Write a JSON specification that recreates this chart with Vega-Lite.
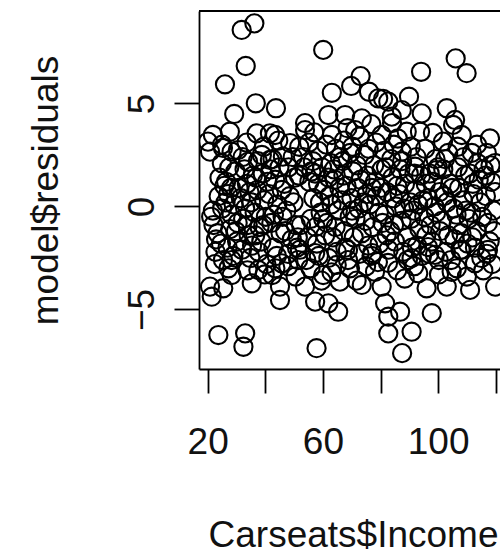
{
  "$schema": "https://vega.github.io/schema/vega-lite/v6.json",
  "width": 301,
  "height": 358,
  "autosize": {"type": "none"},
  "padding": {"left": 199, "top": 11, "right": 0, "bottom": 187},
  "background": "white",
  "config": {"view": {"stroke": null}},
  "data": {"values": [
    {"x":31.8,"y":8.57},{"x":36.2,"y":8.89},{"x":33.2,"y":6.82},{"x":26.0,"y":5.93},{"x":36.7,"y":5.01},{"x":43.7,"y":4.77},{"x":29.2,"y":4.49},
    {"x":60.1,"y":7.6},{"x":73.1,"y":6.33},{"x":69.8,"y":5.85},{"x":63.1,"y":5.52},{"x":76.0,"y":5.57},{"x":79.2,"y":5.25},{"x":82.7,"y":5.09},{"x":80.9,"y":5.22},{"x":61.9,"y":4.44},{"x":67.7,"y":4.44},{"x":73.5,"y":4.28},{"x":83.9,"y":4.36},{"x":53.8,"y":4.05},
    {"x":94.1,"y":6.54},{"x":106.1,"y":7.19},{"x":109.9,"y":6.47},{"x":89.9,"y":5.33},{"x":94.3,"y":4.52},{"x":103.0,"y":4.77},{"x":87.4,"y":4.68},{"x":105.9,"y":4.2},
    {"x":20.8,"y":-3.89},{"x":21.4,"y":-4.38},{"x":25.4,"y":-3.97},{"x":28.3,"y":-3.33},{"x":23.7,"y":-6.24},{"x":33.0,"y":-6.16},{"x":32.4,"y":-6.81},{"x":35.3,"y":-3.73},{"x":45.1,"y":-3.89},{"x":45.1,"y":-4.54},{"x":42.4,"y":-3.33},{"x":45.7,"y":-2.76},{"x":28.3,"y":-2.6},{"x":37.6,"y":-3.08},
    {"x":53.8,"y":-3.89},{"x":57.3,"y":-4.62},{"x":57.8,"y":-6.88},{"x":60.1,"y":-3.33},{"x":64.8,"y":-2.84},{"x":65.9,"y":-3.65},{"x":65.3,"y":-5.11},{"x":61.9,"y":-4.7},{"x":81.6,"y":-4.7},{"x":82.7,"y":-5.35},{"x":82.7,"y":-6.16},{"x":73.5,"y":-3.81},{"x":80.4,"y":-3.89},{"x":78.1,"y":-3.17},{"x":82.6,"y":-2.74},{"x":51.4,"y":-2.6},{"x":57.3,"y":-2.26},{"x":68.7,"y":-2.11},{"x":77.1,"y":-2.26},
    {"x":90.8,"y":-2.51},{"x":93.1,"y":-3.24},{"x":96.0,"y":-3.97},{"x":103.0,"y":-3.89},{"x":104.7,"y":-3.17},{"x":111.1,"y":-4.05},{"x":119.8,"y":-3.89},{"x":97.8,"y":-5.18},{"x":86.8,"y":-5.11},{"x":90.8,"y":-6.08},{"x":87.5,"y":-7.12},{"x":112.8,"y":-2.76},{"x":98.9,"y":-2.35},{"x":108.2,"y":-2.11},{"x":117.3,"y":-2.11},{"x":96.5,"y":-1.97},
    {"x":21.8,"y":3.47},{"x":27.7,"y":3.63},{"x":37.0,"y":3.55},{"x":41.6,"y":3.55},{"x":43.4,"y":3.47},{"x":48.6,"y":3.08},{"x":20.8,"y":2.66},{"x":28.3,"y":2.66},{"x":30.5,"y":2.74},{"x":34.0,"y":2.17},{"x":38.8,"y":2.5},{"x":41.6,"y":2.26},{"x":46.1,"y":2.42},{"x":25.3,"y":2.84},{"x":20.1,"y":3.15},
    {"x":53.8,"y":3.71},{"x":63.1,"y":3.47},{"x":71.2,"y":3.71},{"x":80.4,"y":3.47},{"x":84.0,"y":4.05},
    {"x":89.1,"y":3.63},{"x":93.7,"y":3.63},{"x":98.2,"y":3.57},{"x":101.7,"y":3.15},{"x":105.2,"y":3.96},{"x":108.2,"y":3.47},{"x":87.4,"y":2.66},{"x":92.0,"y":1.93},{"x":99.5,"y":1.77},{"x":111.7,"y":2.6},{"x":116.9,"y":2.6},{"x":119.8,"y":2.11},
    {"x":21.2,"y":-0.5},{"x":22.0,"y":-0.9},{"x":23.4,"y":-1.3},{"x":21.8,"y":-0.2},{"x":24.1,"y":1.4},{"x":23.8,"y":0.5},{"x":25.0,"y":-0.1},{"x":24.6,"y":-1.8},{"x":22.7,"y":-2.2},{"x":25.3,"y":-2.6},{"x":24.9,"y":2.1},{"x":25.8,"y":1.0},{"x":22.9,"y":-1.6},
    {"x":26.4,"y":1.2},{"x":27.1,"y":0.6},{"x":28.3,"y":-0.4},{"x":29.0,"y":0.1},{"x":27.8,"y":-1.1},{"x":30.2,"y":-1.7},{"x":26.9,"y":-2.0},{"x":29.6,"y":1.7},{"x":30.7,"y":0.9},{"x":28.9,"y":-2.4},{"x":26.2,"y":0.2},{"x":30.4,"y":-0.8},{"x":27.5,"y":1.9},{"x":29.8,"y":-1.2},{"x":28.1,"y":0.9},
    {"x":31.5,"y":0.4},{"x":32.3,"y":-0.6},{"x":33.6,"y":1.1},{"x":34.2,"y":-1.4},{"x":35.1,"y":0.2},{"x":32.8,"y":1.8},{"x":31.9,"y":-2.1},{"x":34.8,"y":-2.5},{"x":33.0,"y":-0.1},{"x":35.7,"y":1.5},{"x":32.1,"y":2.4},{"x":34.5,"y":0.7},{"x":33.9,"y":-0.9},{"x":35.4,"y":-1.9},
    {"x":36.3,"y":-0.3},{"x":37.2,"y":0.8},{"x":38.0,"y":-1.0},{"x":39.1,"y":1.6},{"x":40.2,"y":-0.5},{"x":37.7,"y":-2.2},{"x":39.6,"y":0.3},{"x":40.7,"y":1.2},{"x":36.8,"y":1.4},{"x":38.6,"y":-1.7},{"x":40.4,"y":-2.8},{"x":37.4,"y":2.2},{"x":39.3,"y":-0.9},{"x":36.5,"y":-1.4},
    {"x":41.3,"y":0.6},{"x":42.1,"y":-0.8},{"x":43.4,"y":1.3},{"x":44.2,"y":0.1},{"x":45.3,"y":-1.3},{"x":42.8,"y":-2.0},{"x":44.9,"y":1.9},{"x":43.0,"y":-0.4},{"x":45.7,"y":0.8},{"x":41.8,"y":1.8},{"x":44.0,"y":-2.4},{"x":46.0,"y":-0.5},{"x":42.5,"y":2.3},
    {"x":46.6,"y":1.1},{"x":47.3,"y":-0.2},{"x":48.5,"y":0.5},{"x":49.2,"y":-1.6},{"x":50.3,"y":1.4},{"x":47.9,"y":-2.3},{"x":49.8,"y":0.2},{"x":50.6,"y":-0.9},{"x":48.1,"y":1.9},{"x":46.9,"y":-1.2},{"x":49.5,"y":2.4},{"x":51.0,"y":-2.0},
    {"x":51.6,"y":1.5},{"x":52.4,"y":-0.9},{"x":53.5,"y":1.9},{"x":54.6,"y":-1.5},{"x":55.3,"y":1.2},{"x":52.0,"y":-2.1},{"x":55.8,"y":-0.6},{"x":53.1,"y":2.4},{"x":54.2,"y":-2.6},{"x":51.3,"y":-1.5},{"x":56.0,"y":1.7},
    {"x":56.7,"y":0.4},{"x":57.5,"y":-1.0},{"x":58.3,"y":1.1},{"x":59.2,"y":-0.3},{"x":60.4,"y":0.8},{"x":57.9,"y":-1.8},{"x":59.7,"y":1.9},{"x":60.8,"y":-1.4},{"x":58.6,"y":-2.4},{"x":56.5,"y":2.2},{"x":60.1,"y":-0.6},{"x":59.0,"y":0.2},{"x":57.3,"y":1.6},
    {"x":61.4,"y":-0.8},{"x":62.2,"y":0.5},{"x":63.5,"y":-1.5},{"x":64.1,"y":1.3},{"x":65.2,"y":-0.2},{"x":62.7,"y":2.1},{"x":64.8,"y":-2.2},{"x":61.9,"y":-2.5},{"x":65.7,"y":0.9},{"x":63.0,"y":0.1},{"x":64.4,"y":-1.0},{"x":62.0,"y":1.4},{"x":65.9,"y":2.4},{"x":63.8,"y":1.8},
    {"x":66.5,"y":0.3},{"x":67.4,"y":-1.2},{"x":68.2,"y":1.0},{"x":69.3,"y":-0.5},{"x":70.5,"y":1.7},{"x":67.8,"y":-2.0},{"x":69.9,"y":0.4},{"x":70.7,"y":-1.5},{"x":66.9,"y":2.2},{"x":68.7,"y":-2.6},{"x":70.1,"y":-0.2},{"x":67.1,"y":1.5},{"x":69.5,"y":2.6},
    {"x":71.3,"y":-0.6},{"x":72.1,"y":0.9},{"x":73.5,"y":-1.3},{"x":74.2,"y":0.2},{"x":75.4,"y":1.5},{"x":72.7,"y":-2.3},{"x":74.9,"y":-0.7},{"x":71.8,"y":2.0},{"x":75.7,"y":-1.9},{"x":73.1,"y":1.3},{"x":74.5,"y":2.5},{"x":72.4,"y":-0.1},{"x":75.2,"y":0.6},
    {"x":76.4,"y":0.1},{"x":77.3,"y":-1.0},{"x":78.1,"y":1.2},{"x":79.4,"y":-0.3},{"x":80.2,"y":0.9},{"x":77.8,"y":2.0},{"x":79.7,"y":-1.8},{"x":80.7,"y":-0.8},{"x":76.9,"y":-2.4},{"x":78.6,"y":0.5},{"x":80.4,"y":1.8},{"x":77.0,"y":0.9},{"x":79.1,"y":-2.7},
    {"x":81.5,"y":-0.4},{"x":82.3,"y":0.7},{"x":83.4,"y":-1.2},{"x":84.1,"y":1.4},{"x":85.3,"y":0.0},{"x":82.8,"y":-2.1},{"x":84.7,"y":-0.9},{"x":85.8,"y":1.0},{"x":81.9,"y":1.9},{"x":83.7,"y":2.3},{"x":85.0,"y":-1.7},{"x":82.1,"y":-1.4},{"x":84.4,"y":0.4},
    {"x":86.6,"y":0.6},{"x":87.3,"y":-0.7},{"x":88.5,"y":1.1},{"x":89.2,"y":-1.5},{"x":90.3,"y":0.2},{"x":87.9,"y":-2.2},{"x":89.8,"y":1.6},{"x":90.6,"y":-0.6},{"x":86.9,"y":1.8},{"x":88.2,"y":-0.1},{"x":90.9,"y":-2.0},{"x":87.5,"y":2.2},{"x":89.5,"y":-2.6},
    {"x":91.4,"y":-0.2},{"x":92.2,"y":0.8},{"x":93.5,"y":-1.1},{"x":94.1,"y":1.5},{"x":95.2,"y":-0.5},{"x":92.7,"y":-1.9},{"x":94.8,"y":0.3},{"x":95.7,"y":1.1},{"x":91.8,"y":1.6},{"x":93.1,"y":0.1},{"x":94.4,"y":-2.4},{"x":92.5,"y":2.4},{"x":95.9,"y":-1.4},
    {"x":96.5,"y":0.4},{"x":97.4,"y":-0.9},{"x":98.2,"y":1.2},{"x":99.3,"y":-0.3},{"x":100.5,"y":0.7},{"x":97.8,"y":-1.7},{"x":99.9,"y":1.9},{"x":100.7,"y":-1.2},{"x":96.9,"y":-2.3},{"x":98.7,"y":0.0},{"x":100.2,"y":-2.6},{"x":97.1,"y":1.6},{"x":99.1,"y":2.3},
    {"x":101.3,"y":-0.7},{"x":102.1,"y":0.5},{"x":103.5,"y":-1.4},{"x":104.2,"y":1.1},{"x":105.4,"y":-0.1},{"x":102.7,"y":-2.2},{"x":104.9,"y":0.9},{"x":101.8,"y":1.8},{"x":105.7,"y":-1.6},{"x":103.1,"y":0.2},{"x":104.5,"y":-2.6},{"x":102.4,"y":2.3},
    {"x":106.4,"y":-0.4},{"x":107.3,"y":0.9},{"x":108.1,"y":-1.3},{"x":109.4,"y":1.5},{"x":110.6,"y":-0.6},{"x":107.8,"y":-2.1},{"x":109.7,"y":-0.2},{"x":106.9,"y":1.9},{"x":108.6,"y":0.3},{"x":110.2,"y":-1.8},{"x":107.1,"y":-0.9},{"x":111.0,"y":1.6},{"x":108.9,"y":2.4},
    {"x":111.5,"y":-0.3},{"x":112.3,"y":0.6},{"x":113.4,"y":-1.2},{"x":114.1,"y":1.3},{"x":115.3,"y":-0.5},{"x":112.8,"y":-2.0},{"x":114.7,"y":0.2},{"x":115.8,"y":1.8},{"x":111.9,"y":-1.5},{"x":113.7,"y":2.1},{"x":115.0,"y":-2.5},{"x":112.1,"y":1.1},
    {"x":116.6,"y":0.5},{"x":117.3,"y":-0.8},{"x":118.5,"y":1.2},{"x":119.2,"y":-0.2},{"x":117.9,"y":-1.7},{"x":119.8,"y":0.7},{"x":116.9,"y":-2.3},{"x":118.2,"y":2.0},{"x":119.5,"y":-1.2},{"x":116.4,"y":1.5},
    {"x":51.8,"y":2.9},{"x":55.2,"y":3.1},{"x":58.4,"y":2.7},{"x":61.2,"y":3.0},{"x":64.5,"y":2.8},{"x":67.3,"y":3.2},{"x":70.2,"y":2.9},{"x":72.8,"y":3.4},{"x":75.9,"y":2.8},{"x":78.4,"y":3.1},{"x":81.2,"y":2.7},{"x":84.6,"y":3.0},{"x":86.0,"y":3.3},{"x":57.0,"y":3.6},{"x":68.5,"y":3.8},{"x":76.8,"y":4.0},{"x":90.5,"y":2.9},{"x":95.5,"y":2.8},{"x":103.5,"y":2.6},{"x":106.8,"y":2.9},{"x":113.5,"y":3.0},{"x":118.0,"y":3.3},{"x":25.0,"y":3.0},{"x":33.5,"y":3.1},{"x":39.5,"y":2.9},{"x":44.5,"y":3.2},
    {"x":22.5,"y":-2.8},{"x":27.2,"y":-3.0},{"x":33.8,"y":-3.1},{"x":39.8,"y":-3.3},{"x":48.0,"y":-2.9},{"x":50.5,"y":-3.4},{"x":55.7,"y":-3.0},{"x":63.0,"y":-3.2},{"x":69.4,"y":-3.0},{"x":71.7,"y":-3.6},{"x":75.0,"y":-2.9},{"x":85.8,"y":-3.1},{"x":88.4,"y":-3.5},{"x":91.7,"y":-2.9},{"x":100.3,"y":-3.3},{"x":106.5,"y":-3.0},{"x":110.0,"y":-3.4},{"x":115.7,"y":-3.1},{"x":118.8,"y":-2.8},{"x":59.5,"y":-3.6},{"x":43.5,"y":-3.0}
  ]},
  "layer": [
    {
      "mark": {"type": "point", "shape": "circle", "filled": false, "stroke": "black", "strokeWidth": 2.1, "size": 330, "opacity": 1, "clip": true},
      "encoding": {
        "x": {
          "field": "x", "type": "quantitative",
          "scale": {"domain": [16.98, 121.49], "nice": false, "zero": false},
          "axis": {
            "orient": "bottom", "grid": false,
            "values": [20, 40, 60, 80, 100, 120],
            "labelExpr": "datum.value % 40 == 20 ? datum.label : ''",
            "domain": true, "domainColor": "black", "domainWidth": 1.8,
            "ticks": true, "tickSize": 24, "tickWidth": 1.8, "tickColor": "black",
            "labelFont": "Liberation Sans", "labelFontSize": 37, "labelColor": "#111",
            "labelBaseline": "alphabetic", "labelPadding": 60, "labelFlush": false, "labelOverlap": false,
            "title": "Carseats$Income", "titleFont": "Liberation Sans", "titleFontSize": 37, "titleFontWeight": "normal", "titleColor": "#111",
            "titleBaseline": "alphabetic", "titleAnchor": "middle", "titleAlign": "center", "titleX": 154, "titleY": 177
          }
        },
        "y": {
          "field": "y", "type": "quantitative",
          "scale": {"domain": [-7.89, 9.49], "nice": false, "zero": false},
          "axis": {
            "orient": "left", "grid": false,
            "values": [-5, 0, 5],
            "domain": true, "domainColor": "black", "domainWidth": 1.8,
            "ticks": true, "tickSize": 25, "tickWidth": 1.8, "tickColor": "black",
            "labelFont": "Liberation Sans", "labelFontSize": 37, "labelColor": "#111",
            "labelAngle": 270, "labelAlign": "center", "labelBaseline": "alphabetic", "labelPadding": 21, "labelOverlap": false,
            "title": "model$residuals", "titleFont": "Liberation Sans", "titleFontSize": 37, "titleFontWeight": "normal", "titleColor": "#111",
            "titleAngle": 270, "titleBaseline": "alphabetic", "titleAlign": "center", "titleX": -142, "titleY": 179
          }
        }
      }
    },
    {
      "mark": {"type": "rule", "stroke": "black", "strokeWidth": 1.8},
      "encoding": {"y": {"datum": 9.49}}
    }
  ]
}
